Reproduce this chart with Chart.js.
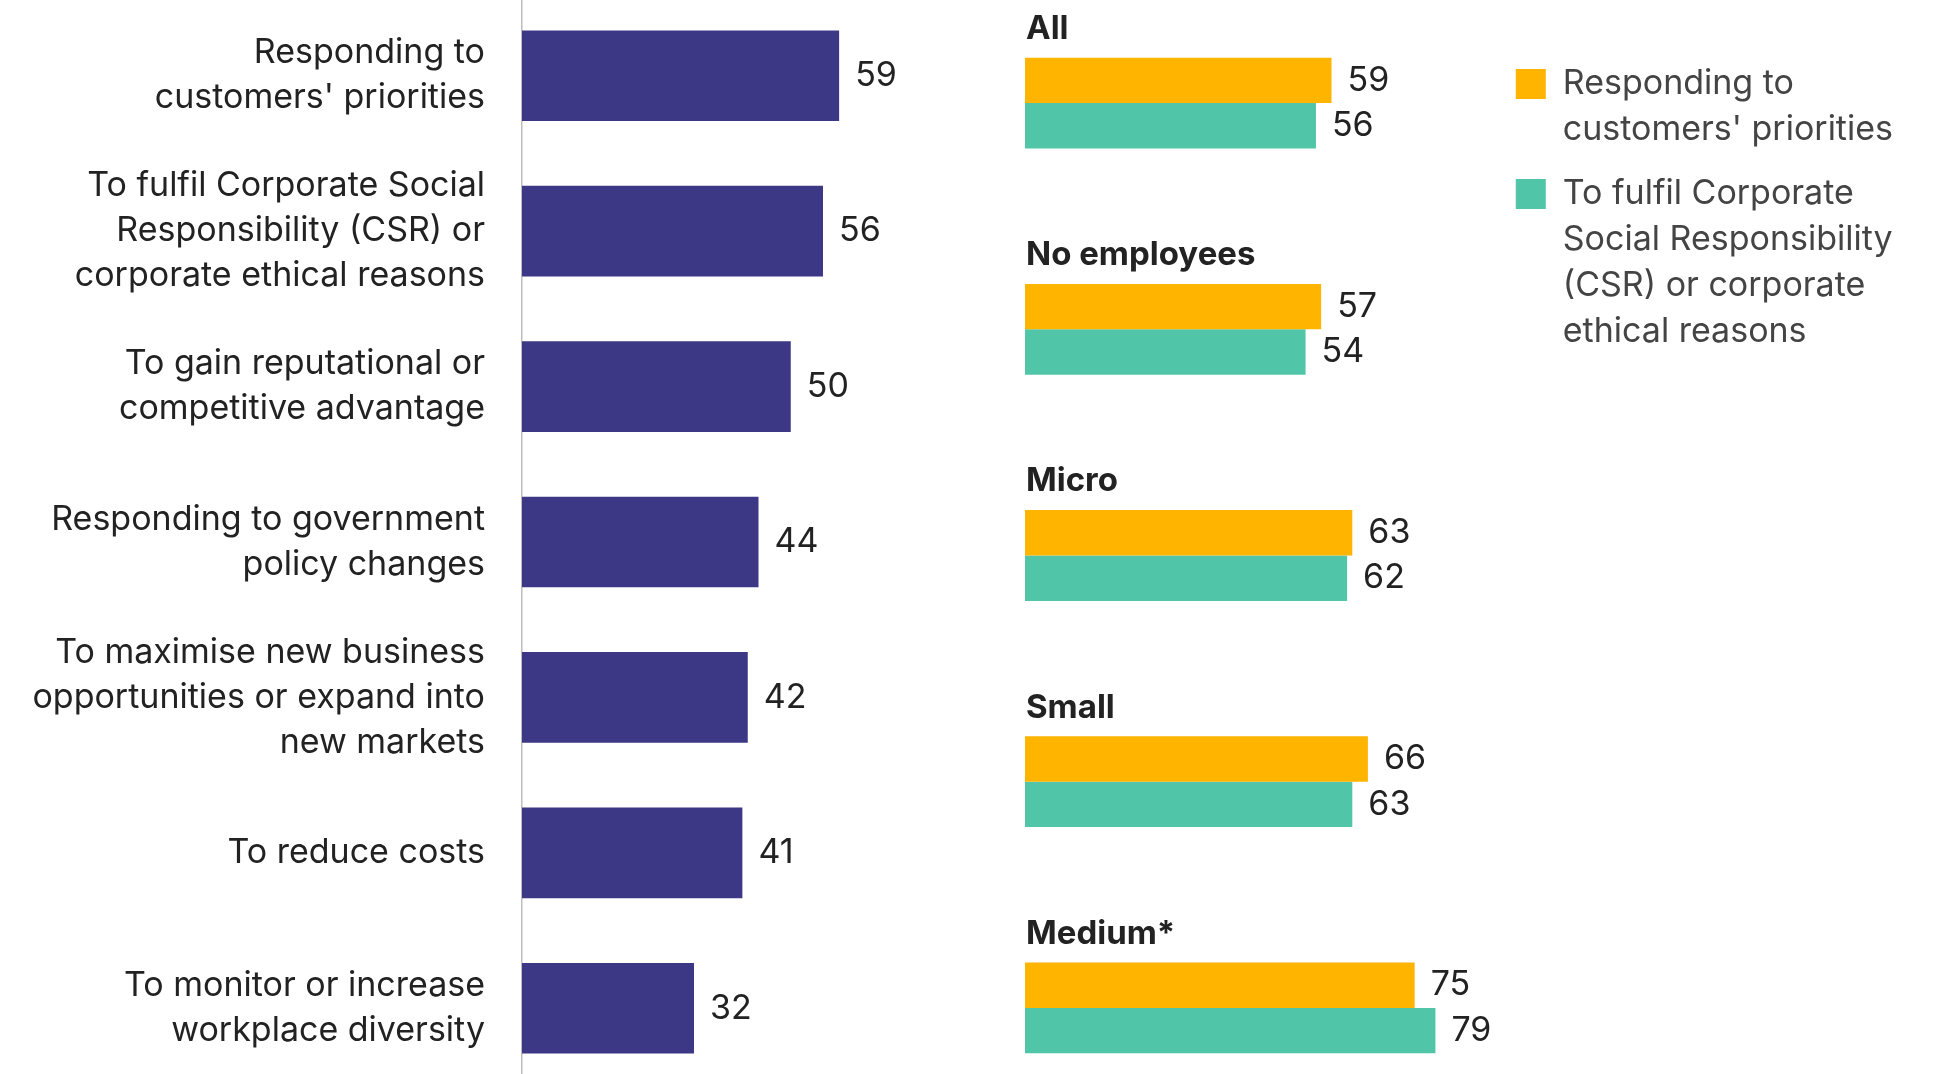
<!DOCTYPE html>
<html>
<head>
<meta charset="utf-8">
<script src="https://cdn.jsdelivr.net/npm/chart.js@4.4.1/dist/chart.umd.min.js"></script>
<style>
  html, body { margin: 0; padding: 0; background: #fff; overflow: hidden; }
  #page { position: relative; width: 1940px; height: 1074px; overflow: hidden; }
  #motivos { position: absolute; left: 0; top: -2px; }
  #tamanos { position: absolute; left: 1025px; top: -10px; }
</style>
</head>
<body>
<div id="page">
  <canvas id="motivos" width="952" height="1088"></canvas>
  <canvas id="tamanos" width="878" height="1131"></canvas>
</div>
<script>
// Reasons for acting (left panel)
const reasons = [
  ['Responding to', "customers' priorities"],
  ['To fulfil Corporate Social', 'Responsibility (CSR) or', 'corporate ethical reasons'],
  ['To gain reputational or', 'competitive advantage'],
  ['Responding to government', 'policy changes'],
  ['To maximise new business', 'opportunities or expand into', 'new markets'],
  'To reduce costs',
  ['To monitor or increase', 'workplace diversity']
];
const reasonValues = [59, 56, 50, 44, 42, 41, 32];

// Top two reasons by business size (right panel)
const sizeGroups = ['All', 'No employees', 'Micro', 'Small', 'Medium*'];
const customersValues = [59, 57, 63, 66, 75];
const csrValues = [56, 54, 62, 63, 79];
const seriesNames = [
  ['Responding to', "customers' priorities"],
  ['To fulfil Corporate', 'Social Responsibility', '(CSR) or corporate', 'ethical reasons']
];

Chart.defaults.font.family = 'Inter';

// Number written just past the end of each bar
const valueLabels = {
  id: 'valueLabels',
  afterDatasetsDraw(chart, args, opts) {
    const ctx = chart.ctx;
    ctx.save();
    ctx.font = opts.font;
    ctx.fillStyle = opts.color;
    ctx.textAlign = 'left';
    ctx.textBaseline = 'middle';
    chart.data.datasets.forEach((ds, i) => {
      chart.getDatasetMeta(i).data.forEach((bar, j) => {
        ctx.fillText(ds.data[j], bar.x + opts.gap, bar.y + opts.shift);
      });
    });
    ctx.restore();
  }
};

// Bold group name above each pair of bars
const groupTitles = {
  id: 'groupTitles',
  afterDatasetsDraw(chart, args, opts) {
    const ctx = chart.ctx;
    const yScale = chart.scales.y;
    ctx.save();
    ctx.font = opts.font;
    ctx.fillStyle = opts.color;
    ctx.textAlign = 'left';
    ctx.textBaseline = 'middle';
    chart.data.labels.forEach((label, i) => {
      ctx.fillText(label, chart.chartArea.left + 1, yScale.getPixelForValue(i) + opts.offset);
    });
    ctx.restore();
  }
};

// 1) Left chart: all reasons
new Chart(document.getElementById('motivos'), {
  type: 'bar',
  data: {
    labels: reasons,
    datasets: [{
      data: reasonValues,
      backgroundColor: '#3d3885',
      borderWidth: 0,
      barPercentage: 0.583,
      categoryPercentage: 1
    }]
  },
  options: {
    indexAxis: 'y',
    responsive: false,
    animation: false,
    devicePixelRatio: 1,
    layout: { padding: 0 },
    plugins: {
      legend: { display: false },
      tooltip: { enabled: false },
      valueLabels: { font: '34px Inter', color: '#222', gap: 16, shift: 0 }
    },
    scales: {
      x: { display: false, min: 0, max: 80 },
      y: {
        grid: { display: false, drawTicks: false },
        border: { display: true, color: '#bdbdbd', width: 1.5 },
        ticks: { color: '#222', font: { size: 34, lineHeight: 1.32 }, padding: 37 },
        afterFit(scale) {
          scale.width = 522;
          scale.paddingTop = 0;
          scale.paddingBottom = 0;
        }
      }
    }
  },
  plugins: [valueLabels]
});

// 2) Right chart: by business size, with legend
new Chart(document.getElementById('tamanos'), {
  type: 'bar',
  data: {
    labels: sizeGroups,
    datasets: [
      { label: seriesNames[0], data: customersValues, backgroundColor: '#ffb400', borderWidth: 0 },
      { label: seriesNames[1], data: csrValues, backgroundColor: '#50c5a8', borderWidth: 0 }
    ]
  },
  options: {
    indexAxis: 'y',
    responsive: false,
    animation: false,
    devicePixelRatio: 1,
    layout: { padding: 0 },
    datasets: { bar: { barPercentage: 1, categoryPercentage: 0.4014 } },
    plugins: {
      legend: {
        position: 'right',
        align: 'start',
        title: { display: true, text: '', font: { size: 12, lineHeight: 1.2 }, padding: { top: 44.5, bottom: 0 } },
        labels: {
          boxWidth: 30,
          boxHeight: 30,
          padding: 18,
          color: '#444',
          font: { size: 34, lineHeight: 46 / 34 }
        }
      },
      tooltip: { enabled: false },
      valueLabels: { font: '34px Inter', color: '#222', gap: 16, shift: 0 },
      groupTitles: { font: 'bold 33px Inter', color: '#222', offset: -74 }
    },
    scales: {
      x: { display: false, min: 0, max: 91 },
      y: { display: false }
    }
  },
  plugins: [valueLabels, groupTitles]
});
</script>
</body>
</html>
